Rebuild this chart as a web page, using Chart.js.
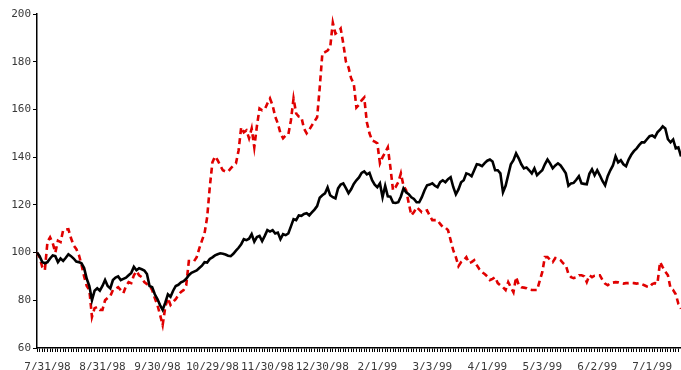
<!DOCTYPE html>
<html>
<head>
<meta charset="utf-8">
<script src="https://cdn.jsdelivr.net/npm/chart.js@4/dist/chart.umd.min.js"></script>
<style>
  html, body { margin: 0; padding: 0; background: #fff; }
  #wrap { width: 681px; height: 370px; }
</style>
</head>
<body>
<div id="wrap"><canvas id="chart" width="681" height="370"></canvas></div>
<script>
// month labels on the date axis, one every 21 trading days
const tickLabels = ["7/31/98", "8/31/98", "9/30/98", "10/29/98", "11/30/98", "12/30/98",
  "2/1/99", "3/3/99", "4/1/99", "5/3/99", "6/2/99", "7/1/99"];
const firstLabelDay = 4;
const labelStep = 21;

// solid black series, indexed to 100
const seriesBlack = [
  100, 98.5, 96, 95.5, 96, 97.5, 98.8, 98.5, 96, 97.5,
  96.5, 97.8, 99.3, 98.5, 97.5, 96.2, 96, 95.5, 93.5, 89,
  86, 80, 84, 85, 84, 86, 88.5, 86, 85, 88.5,
  89.5, 90, 88.5, 89, 89.5, 90.5, 91.5, 94, 92.6, 93.4,
  93, 92.5, 91, 86, 85.5, 82.5, 80.5, 78, 76, 79,
  82.5, 81.5, 84, 86, 86.5, 87.5, 88, 89, 90.5, 91.5,
  92, 92.5, 93.5, 94.5, 96, 95.8, 97.3, 98, 98.8, 99.3,
  99.7, 99.5, 99.2, 98.7, 98.5, 99.5, 100.8, 102, 103.5, 105.6,
  105.2, 105.8, 107.7, 104.6, 106.5, 107, 104.8, 107, 109.4, 108.8,
  109.4, 108, 108.4, 105.6, 107.7, 107.3, 108, 111, 114, 113.6,
  115.6, 115.4, 116.2, 116.5, 115.6, 116.8, 118, 119.5, 123, 124,
  124.8, 127.3, 124, 123.2, 122.7, 126.9, 128.5, 129, 127, 124.9,
  126.5, 128.8, 130.3, 131.5, 133.4, 134, 132.8, 133.4, 130.3, 128.5,
  127.4, 129, 123.2, 128, 123.6, 123.4, 121, 120.8, 121.1, 123.5,
  126.9, 125.3, 124.5, 123.2, 122.5, 121.1, 121.1, 123.2, 126, 128.2,
  128.5, 129, 128, 127.4, 129.5, 130.3, 129.5, 130.8, 131.6, 127.5,
  124.4, 126.5, 129.5, 130.3, 133.2, 132.8, 132, 134.5, 137, 136.8,
  136.2, 137.5, 138.5, 139, 138.2, 134.5, 134.5, 133.2, 125.3, 128,
  132.5, 137, 138.7, 141.6, 139.5, 137, 135.3, 135.7, 134.5, 133.2,
  135.3, 132.4, 133.5, 134.5, 137, 139, 137.4, 135.3, 136.5, 137.4,
  136.5, 134.9, 133.2, 128, 129, 129.2, 130.5, 132, 129, 128.8,
  128.6, 133, 134.9, 132.4, 134.5, 132.4, 130, 128.2, 132, 134.5,
  136.5, 140.3, 137.8, 138.7, 137, 136.2, 139, 141, 142.5, 143.6,
  145, 146.2, 146.2, 147.5, 148.8, 149.1, 148.3, 150.4, 151.5, 152.9,
  152, 147.5, 146.2, 147.4, 143.7, 144.1, 140.3
];

// dashed red series, indexed to 100
const seriesRed = [
  100, 98, 94, 92.6, 104.5, 106.4, 104, 100, 105, 104.4,
  109.4, 109.6, 109.8, 106, 103, 101.5, 99, 95, 90, 86,
  84.3, 73, 76.7, 77.2, 76, 76, 80, 81, 81.7, 84.3,
  84.8, 85.5, 84.3, 83, 86, 87.6, 87.2, 90.5, 92.2, 90.5,
  89.7, 87.6, 86.8, 86.3, 84.3, 80.9, 78, 74, 69.6, 77.2,
  80.9, 78, 79.3, 80.5, 82.2, 83.5, 84.3, 86.3, 96.4, 96.4,
  96.4, 98.1, 101.8, 105, 108.1, 114.8, 127.4, 137.8, 140.3, 138.7,
  136.5, 134.5, 134, 134, 135.3, 136.5, 137.4, 142.8, 152.5, 150.4,
  151.2, 147.9, 152, 144.1, 153, 160.4, 159.6, 160, 162.5, 164.6,
  161.7, 157, 154.1, 150, 147.9, 149.1, 149.5, 155.4, 164.6, 158.3,
  157, 156.7, 152, 150, 151.5, 153.3, 155, 156.7, 169.2, 183.4,
  184, 184.7, 186, 196.4, 191.8, 192.5, 193.9, 187.6, 180, 177.6,
  173, 170.9, 160.8, 162, 163.8, 165, 154.6, 150, 147, 146.5,
  145.8, 137.4, 140, 142, 144.1, 135.7, 126.1, 127.5, 129.5, 133.2,
  128, 126.1, 120.7, 115.6, 117, 119, 118, 116.9, 117.2, 117.7,
  115.5, 113.6, 113.6, 113.6, 112, 110.7, 110.5, 109.4, 105.2, 101,
  98.1, 94.3, 96, 96.8, 98.1, 95.6, 96, 96.8, 94.7, 93,
  91.8, 91, 90, 88.5, 89, 89.7, 87.2, 86.3, 85.5, 84.3,
  87.6, 85.5, 83.4, 89.7, 86.5, 85.5, 85.3, 85.1, 84.5, 84.3,
  84.3, 84.3, 88, 91.8, 98.1, 98.1, 97, 96, 97.7, 97.5,
  96.8, 95.5, 94.7, 91, 89.7, 89.3, 89.6, 90.5, 90.5, 90.1,
  87.6, 90.5, 89.7, 90.3, 90.5, 90.5, 88.5, 87, 86.3, 87.2,
  87.4, 87.6, 87.5, 87.2, 87, 87.2, 87.2, 87.3, 87.2, 87,
  87.2, 86.8, 86.3, 85.8, 85.5, 86.8, 87.2, 87, 96, 93.9,
  92, 90.5, 85.1, 84.3, 82.5, 78.5, 76.5
];

// one category per trading day, labelled only at month marks
const days = seriesBlack.map(() => "");
tickLabels.forEach((lab, k) => { days[firstLabelDay + k * labelStep] = lab; });

const fontFamily = "'DejaVu Sans Mono', monospace";

new Chart(document.getElementById("chart").getContext("2d"), {
  type: "line",
  data: {
    labels: days,
    datasets: [
      {
        data: seriesBlack,
        borderColor: "#000",
        borderWidth: 2.6,
        pointRadius: 0,
        tension: 0,
      },
      {
        data: seriesRed,
        borderColor: "#e00000",
        borderWidth: 2.6,
        borderDash: [6, 4],
        pointRadius: 0,
        tension: 0,
      },
    ],
  },
  options: {
    responsive: false,
    animation: false,
    events: [],
    layout: { padding: { top: 14, right: 0, bottom: 0, left: 0 } },
    plugins: {
      legend: { display: false },
      tooltip: { enabled: false },
    },
    scales: {
      x: {
        type: "category",
        offset: false,
        afterFit: (s) => { s.height = 22; },
        border: { color: "#000", width: 1.5 },
        grid: { drawOnChartArea: false, color: "#000", tickLength: 4, lineWidth: 1 },
        ticks: {
          autoSkip: false,
          maxRotation: 0,
          minRotation: 0,
          // padding also widens the right edge, so push labels down via line height
          padding: 0,
          color: "#3a3a3a",
          font: { family: fontFamily, size: 11, lineHeight: "30px" },
        },
      },
      y: {
        min: 60,
        max: 200,
        afterFit: (s) => { s.width = 37; },
        border: { color: "#000", width: 1.5 },
        grid: { drawOnChartArea: false, color: "#000", tickLength: 4 },
        ticks: {
          stepSize: 20,
          padding: 2,
          color: "#3a3a3a",
          font: { family: fontFamily, size: 11 },
        },
      },
    },
  },
});
</script>
</body>
</html>
